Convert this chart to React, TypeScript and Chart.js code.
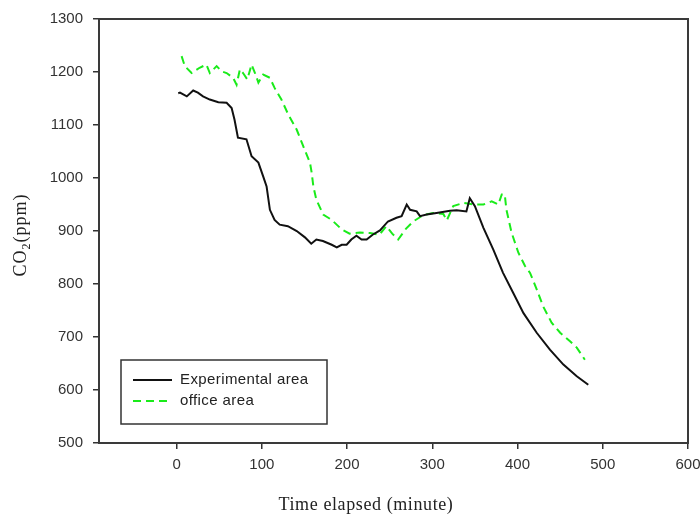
import React, { useEffect, useRef } from "react";
import { Chart, registerables } from "chart.js";

Chart.register(...registerables);

// Experimental area (black solid)
const expTime = [2, 4, 12, 19.5, 25, 31, 39, 49, 58.7, 64.6, 68, 72, 82, 88, 96, 101.6, 105.6, 109.5, 115, 121, 130.6, 141, 150.6, 158, 164, 171.7, 182, 188, 193.7, 199.5, 205, 211, 217, 223, 230, 238.6, 248, 258, 264, 270, 274, 281.7, 285.6, 293.4, 305, 320.8, 328.6, 340, 344, 350, 360, 371.6, 383, 395, 407, 422.5, 438, 453.8, 469.5, 483];
const expCO2 = [1160, 1161, 1154, 1165, 1161, 1154, 1148, 1143, 1142, 1132, 1110, 1076, 1073, 1041, 1029, 1003, 984, 940, 921, 912, 909, 900, 888, 876, 884, 881, 874, 869, 874, 874, 884, 891, 884, 884, 893, 901, 918, 925, 928, 950, 940, 937, 928, 931, 934, 938, 939, 937, 962, 947, 906, 865, 821, 783, 745, 708, 676, 648, 626, 610];

// Office area (green dashed)
const officeTime = [5.9, 9.7, 17.6, 27, 35, 39, 47, 53, 58.7, 66.4, 70.4, 74.3, 78, 83, 88, 92, 96, 101.6, 109.5, 115, 123, 131, 141, 148.6, 156.5, 158.5, 160.5, 164, 172, 182, 193.7, 203, 215, 227, 238, 246, 253, 260, 269, 277.7, 289.4, 301, 313, 317, 324.6, 336.4, 348, 360, 369.7, 377.5, 381.5, 385, 387, 393, 401, 408.8, 414.7, 422.5, 430, 440, 450, 461.6, 469.5, 479];
const officeCO2 = [1230, 1211, 1198, 1208, 1214, 1198, 1211, 1201, 1198, 1189, 1176, 1205, 1198, 1186, 1214, 1198, 1180, 1195, 1189, 1170, 1148, 1120, 1091, 1060, 1029, 1010, 984, 959, 931, 921, 903, 895, 897, 896, 893, 909, 895, 884, 904, 918, 930, 934, 932, 920, 947, 953, 950, 950, 956, 950, 969, 969, 940, 897, 859, 834, 821, 790, 758, 727, 708, 692, 680, 657];

const xTickValues = [0, 100, 200, 300, 400, 500, 600];
const seriesLabels = ["Experimental area", "office area"];
const xTitle = "Time elapsed (minute)";

const decorPlugin = {
  id: "decor",
  afterDraw(chart: any) {
    const { ctx, chartArea: a } = chart;
    ctx.save();
    // frame
    ctx.strokeStyle = "#3a3a3a";
    ctx.lineWidth = 2;
    ctx.strokeRect(a.left, a.top, a.right - a.left, a.bottom - a.top);

    // legend
    const lx = a.left + 22;
    const ly = a.bottom - 83;
    ctx.lineWidth = 1.5;
    ctx.strokeStyle = "#333";
    ctx.strokeRect(lx, ly, 206, 64);
    const rows = [
      { label: seriesLabels[0], color: "#111", dash: [] as number[] },
      { label: seriesLabels[1], color: "#1aeb1a", dash: [8, 5] },
    ];
    rows.forEach((r, i) => {
      const y = ly + 20 + i * 21;
      ctx.beginPath();
      ctx.setLineDash(r.dash);
      ctx.strokeStyle = r.color;
      ctx.lineWidth = 2;
      ctx.moveTo(lx + 12, y);
      ctx.lineTo(lx + 51, y);
      ctx.stroke();
      ctx.setLineDash([]);
      ctx.fillStyle = "#222";
      ctx.font = "15px 'Liberation Sans', Arial, sans-serif";
      (ctx as any).letterSpacing = "0.4px";
      ctx.textAlign = "left";
      ctx.textBaseline = "middle";
      ctx.fillText(r.label, lx + 59, y);
    });

    // x title
    ctx.fillStyle = "#222";
    ctx.font = "18px 'Liberation Serif', 'Times New Roman', serif";
    (ctx as any).letterSpacing = "0.6px";
    ctx.textAlign = "center";
    ctx.textBaseline = "alphabetic";
    ctx.fillText(xTitle, a.left + 267, 510);

    // y title CO2(ppm) rotated
    const cy = (a.top + a.bottom) / 2 + 4;
    ctx.translate(26, cy);
    ctx.rotate(-Math.PI / 2);
    ctx.textAlign = "left";
    const big = "18px 'Liberation Serif', 'Times New Roman', serif";
    const small = "12px 'Liberation Serif', 'Times New Roman', serif";
    ctx.font = big;
    (ctx as any).letterSpacing = "1px";
    const w1 = ctx.measureText("CO").width;
    const w3 = ctx.measureText("(ppm)").width;
    ctx.font = small;
    const w2 = ctx.measureText("2").width;
    const total = w1 + w2 + w3;
    let x0 = -total / 2;
    ctx.font = big;
    ctx.fillText("CO", x0, 0);
    x0 += w1;
    ctx.font = small;
    ctx.fillText("2", x0, 4);
    x0 += w2;
    ctx.font = big;
    ctx.fillText("(ppm)", x0, 0);
    ctx.restore();
  },
};

export default function App() {
  const ref = useRef<HTMLCanvasElement>(null);
  useEffect(() => {
    if (!ref.current) return;
    const chart = new Chart(ref.current, {
      type: "line",
      data: {
        datasets: [
          {
            label: seriesLabels[0],
            data: expTime.map((t, i) => ({ x: t, y: expCO2[i] })),
            borderColor: "#111",
            borderWidth: 2,
            pointRadius: 0,
            tension: 0,
            fill: false,
          },
          {
            label: seriesLabels[1],
            data: officeTime.map((t, i) => ({ x: t, y: officeCO2[i] })),
            borderColor: "#1aeb1a",
            borderWidth: 2,
            borderDash: [8, 5],
            pointRadius: 0,
            tension: 0,
            fill: false,
          },
        ],
      },
      options: {
        animation: false,
        responsive: false,
        devicePixelRatio: 1,
        layout: { padding: { top: 19, right: 12, left: 0, bottom: 0 } },
        plugins: { legend: { display: false }, tooltip: { enabled: false } },
        scales: {
          x: {
            type: "linear",
            min: -91,
            max: 600,
            afterBuildTicks: (scale: any) => {
              scale.ticks = xTickValues.map((v) => ({ value: v }));
            },
            afterFit: (scale: any) => {
              scale.height = 72;
              scale.paddingLeft = 0;
              scale.paddingRight = 0;
            },
            border: { display: false },
            grid: { drawOnChartArea: false, drawTicks: true, tickLength: 6, color: "#333", lineWidth: 1.5 },
            ticks: {
              padding: 7,
              color: "#333",
              maxRotation: 0,
              callback: (v: any) => String(v),
              font: { family: "'Liberation Sans', Arial, sans-serif", size: 15 },
            },
          },
          y: {
            min: 500,
            max: 1300,
            afterFit: (scale: any) => {
              scale.width = 99;
              scale.paddingTop = 0;
              scale.paddingBottom = 0;
            },
            border: { display: false },
            grid: { drawOnChartArea: false, drawTicks: true, tickLength: 6, color: "#333", lineWidth: 1.5 },
            ticks: {
              stepSize: 100,
              padding: 10,
              color: "#333",
              callback: (v: any) => String(v),
              font: { family: "'Liberation Sans', Arial, sans-serif", size: 15 },
            },
          },
        },
      },
      plugins: [decorPlugin],
    } as any);
    return () => chart.destroy();
  }, []);
  return (
    <div style={{ position: "absolute", left: 0, top: 0, width: 700, height: 515, background: "#fff" }}>
      <canvas ref={ref} width={700} height={515} />
    </div>
  );
}
